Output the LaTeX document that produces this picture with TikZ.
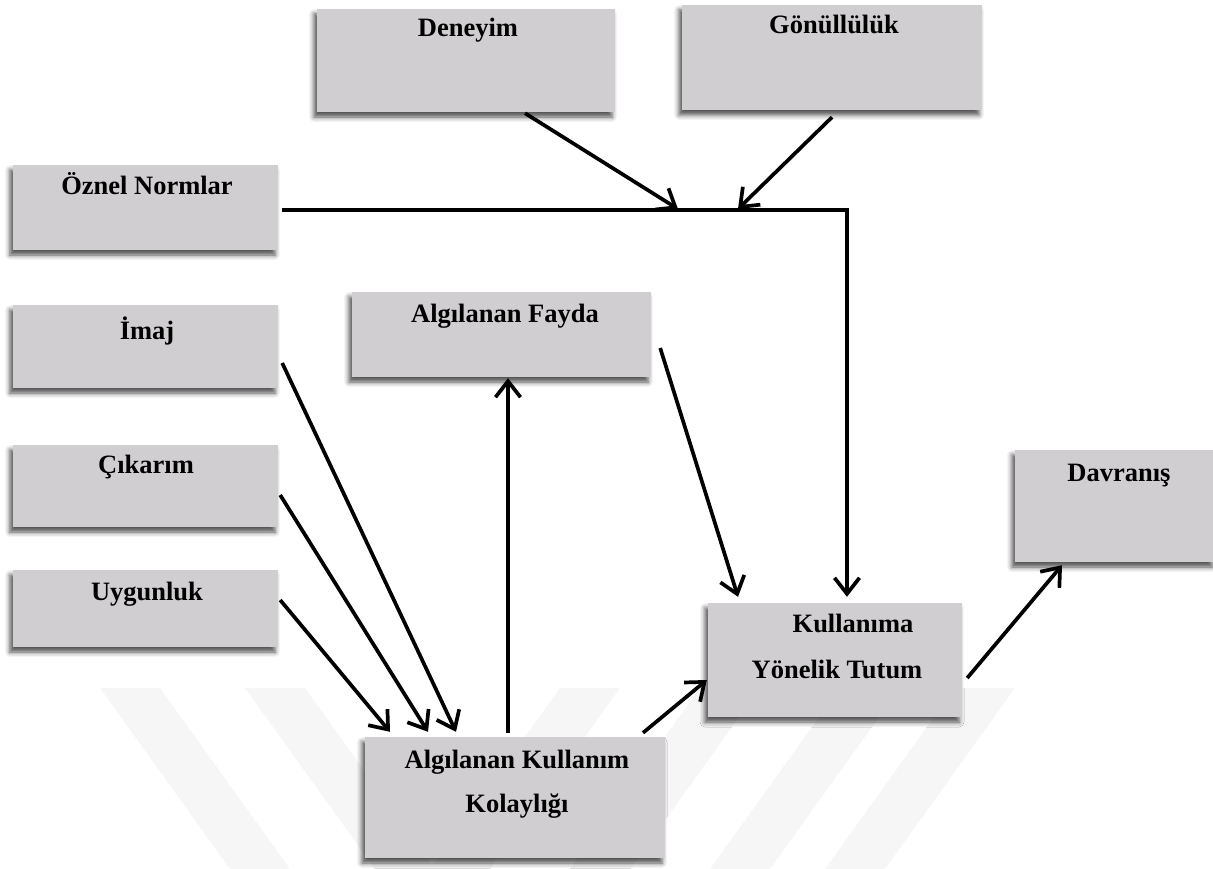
\documentclass[tikz,border=0pt]{standalone}
\usepackage{fontspec}
\setmainfont{Liberation Serif}
\usetikzlibrary{arrows.meta,shadows.blur}

\definecolor{boxfill}{RGB}{208,206,208}
\definecolor{markgray}{RGB}{246,246,246}

\tikzset{
  factor/.style={draw=none, fill=boxfill, inner sep=0pt,
    blur shadow={shadow xshift=-3pt, shadow yshift=-5pt,
      shadow blur radius=5pt, shadow opacity=70}},
  caption/.style={anchor=base, inner sep=0pt,
    font=\fontsize{26.5}{30}\selectfont\bfseries},
  link/.style={line width=3.7pt, -{Straight Barb[length=16pt,width=25pt]}},
  stripe/.style={fill=markgray, draw=none}
}

\begin{document}
\begin{tikzpicture}[x=1pt, y=-1pt]
\useasboundingbox (0,0) rectangle (1213,869);

% faint background emblem
\fill[stripe] (100,688) -- (160,688) -- (290,869) -- (230,869) -- cycle;
\fill[stripe] (245,688) -- (305,688) -- (435,869) -- (375,869) -- cycle;
\fill[stripe] (560,688) -- (620,688) -- (490,869) -- (430,869) -- cycle;
\fill[stripe] (700,688) -- (760,688) -- (630,869) -- (570,869) -- cycle;
\fill[stripe] (840,688) -- (900,688) -- (770,869) -- (710,869) -- cycle;
\fill[stripe] (955,688) -- (1015,688) -- (885,869) -- (825,869) -- cycle;

% factor boxes
\node[factor, minimum width=298pt, minimum height=103pt] (deneyim)  at (466,60.5) {};
\node[factor, minimum width=300pt, minimum height=105pt] (gonullu)  at (832,57.5) {};
\node[factor, minimum width=265pt, minimum height=85pt]  (oznel)    at (145.5,207.5) {};
\node[factor, minimum width=265pt, minimum height=83pt]  (imaj)     at (145.5,346.5) {};
\node[factor, minimum width=299pt, minimum height=85pt]  (fayda)    at (501.5,334.5) {};
\node[factor, minimum width=265pt, minimum height=82pt]  (cikarim)  at (145.5,486) {};
\node[factor, minimum width=265pt, minimum height=77pt]  (uygun)    at (145.5,608.5) {};
\node[factor, minimum width=200pt, minimum height=112pt] (davranis) at (1115,506) {};
\node[factor, minimum width=254pt, minimum height=114pt] (tutum)    at (835,660) {};
\node[factor, minimum width=300pt, minimum height=121pt] (akk)      at (515,797.5) {};

% captions
\node[caption] (t-deneyim)  at (468,37)  {Deneyim};
\node[caption] (t-gonullu)  at (834,34)  {Gönüllülük};
\node[caption] (t-oznel)    at (147,195) {Öznel Normlar};
\node[caption] (t-imaj)     at (147,339) {İmaj};
\node[caption] (t-fayda)    at (505,322) {Algılanan Fayda};
\node[caption] (t-cikarim)  at (146,473) {Çıkarım};
\node[caption] (t-uygun)    at (147,600) {Uygunluk};
\node[caption] (t-davranis) at (1119,481) {Davranış};
\node[caption] (t-tutum1)   at (853,632) {Kullanıma};
\node[caption] (t-tutum2)   at (837,678) {Yönelik Tutum};
\node[caption] (t-akk1)     at (517,768) {Algılanan Kullanım};
\node[caption] (t-akk2)     at (517,812) {Kolaylığı};

% junction points on the subjective-norm line
\coordinate (bus-start) at ([shift={(4,2.5)}]oznel.east);
\coordinate (corner)    at (847,210);
\coordinate (j-den)     at (678,209);
\coordinate (j-gon)     at (738,209);

% connectors
\draw[link, line join=miter] (bus-start) -- (corner) -- ([shift={(12,-6)}]tutum.north);
\draw[link] ([shift={(59,1)}]deneyim.south) -- (j-den);
\draw[link] ([shift={(0,7)}]gonullu.south) -- (j-gon);

\draw[link] ([shift={(4,16.5)}]imaj.east)   -- ([shift={(-59,-5)}]akk.north);
\draw[link] ([shift={(2,9)}]cikarim.east)   -- ([shift={(-87,-5)}]akk.north);
\draw[link] ([shift={(2,-8.5)}]uygun.east)  -- ([shift={(-125,-5)}]akk.north);

\draw[link] ([shift={(-7,-4)}]akk.north)    -- ([shift={(6.5,1)}]fayda.south);
\draw[link] ([shift={(9,13.5)}]fayda.east)  -- ([shift={(-97,-6)}]tutum.north);
\draw[link] ([shift={(128,-4)}]akk.north)   -- ([shift={(-1,20)}]tutum.west);
\draw[link] ([shift={(5,18)}]tutum.east)    -- ([shift={(-53,3)}]davranis.south);

\end{tikzpicture}
\end{document}
